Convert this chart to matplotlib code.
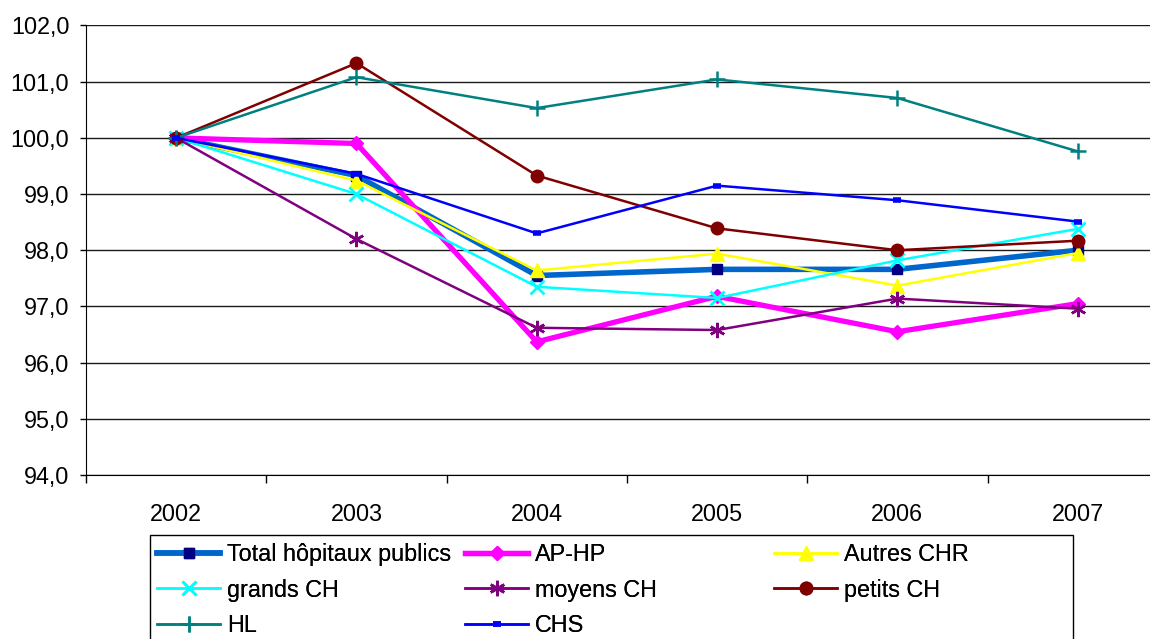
import matplotlib
matplotlib.use("Agg")
import matplotlib.pyplot as plt
from matplotlib.ticker import FixedLocator, FuncFormatter, NullFormatter
from matplotlib.patches import Rectangle

plt.rcParams['font.family'] = ['Liberation Sans', 'DejaVu Sans']

years = ["2002", "2003", "2004", "2005", "2006", "2007"]
total = [100.0, 99.33, 97.55, 97.66, 97.66, 98.0]
aphp = [100.0, 99.9, 96.37, 97.18, 96.55, 97.05]
autres_chr = [100.0, 99.24, 97.64, 97.94, 97.37, 97.95]
grands_ch = [100.0, 99.0, 97.35, 97.15, 97.82, 98.38]
moyens_ch = [100.0, 98.2, 96.62, 96.58, 97.14, 96.96]
petits_ch = [100.0, 101.33, 99.33, 98.39, 98.0, 98.17]
hl = [100.0, 101.08, 100.53, 101.04, 100.71, 99.76]
chs = [100.0, 99.36, 98.3, 99.15, 98.89, 98.51]
yticks = [94, 95, 96, 97, 98, 99, 100, 101, 102]

W, H = 1150, 639
fig = plt.figure(figsize=(W / 100, H / 100), dpi=100)
ax = fig.add_axes([86 / W, 1 - 475 / H, (6 * 180.3) / W, (475 - 25.5) / H])

x = list(range(len(years)))
star = (6, 2, 0)
series = [
    ("Total hôpitaux publics", total, dict(color='#0066CC', lw=4.0, marker='s', ms=7.5, mfc='#000080', mec='#000080')),
    ("AP-HP", aphp, dict(color='#FF00FF', lw=3.8, marker='D', ms=7.5, mfc='#FF00FF', mec='#FF00FF')),
    ("Autres CHR", autres_chr, dict(color='#FFFF00', lw=1.8, marker='^', ms=10, mfc='#FFFF00', mec='#FFFF00')),
    ("grands CH", grands_ch, dict(color='#00FFFF', lw=1.8, marker='x', ms=10, mew=2.0, mec='#00FFFF')),
    ("moyens CH", moyens_ch, dict(color='#800080', lw=1.8, marker=star, ms=11, mew=1.8, mec='#800080')),
    ("petits CH", petits_ch, dict(color='#800000', lw=1.8, marker='o', ms=9, mfc='#800000', mec='#800000')),
    ("HL", hl, dict(color='#008080', lw=1.8, marker='+', ms=12, mew=1.8, mec='#008080')),
    ("CHS", chs, dict(color='#0000FF', lw=1.8, marker='_', ms=6, mew=4, mec='#0000FF')),
]
handles = {}
for label, vals, kw in series:
    h, = ax.plot(x, vals, label=label, clip_on=False, **kw)
    handles[label] = h

ax.set_xlim(-0.5, 5.5)
ax.set_ylim(94, 102)
ax.set_yticks(yticks)
ax.yaxis.set_major_formatter(FuncFormatter(lambda v, p: f"{v:.1f}".replace('.', ',')))
ax.grid(axis='y', color='#1a1a1a', lw=1.0)
ax.set_axisbelow(True)

ax.xaxis.set_major_locator(FixedLocator([i - 0.5 for i in range(7)]))
ax.xaxis.set_major_formatter(NullFormatter())
ax.xaxis.set_minor_locator(FixedLocator(x))
ax.set_xticklabels(years, minor=True)
ax.tick_params(axis='x', which='major', length=6, width=1, direction='out', color='black')
ax.tick_params(axis='x', which='minor', length=0, pad=20, labelsize=16.8)
ax.tick_params(axis='y', length=4, width=1, direction='out', pad=8, labelsize=16.8)

for s in ['top', 'right']:
    ax.spines[s].set_visible(False)
ax.spines['left'].set_color('black')
ax.spines['bottom'].set_color('black')

# legend frame
fig.patches.append(Rectangle((150 / W, -0.1), (1073 - 150) / W, 0.1 + 1 - 535 / H,
                             transform=fig.transFigure, fill=False, ec='black', lw=1.0))

cols = [
    (157, ["Total hôpitaux publics", "grands CH", "HL"]),
    (465, ["AP-HP", "moyens CH", "CHS"]),
    (774, ["Autres CHR", "petits CH"]),
]
for xpix, labels in cols:
    leg = fig.legend([handles[l] for l in labels], labels, loc='upper left',
                     bbox_to_anchor=(xpix / W, 1 - 543 / H), bbox_transform=fig.transFigure,
                     frameon=False, borderpad=0, borderaxespad=0, fontsize=16.8,
                     handlelength=2.7, handletextpad=0.3, labelspacing=0.54)
    fig.add_artist(leg)

fig.savefig("out.png", dpi=100)
